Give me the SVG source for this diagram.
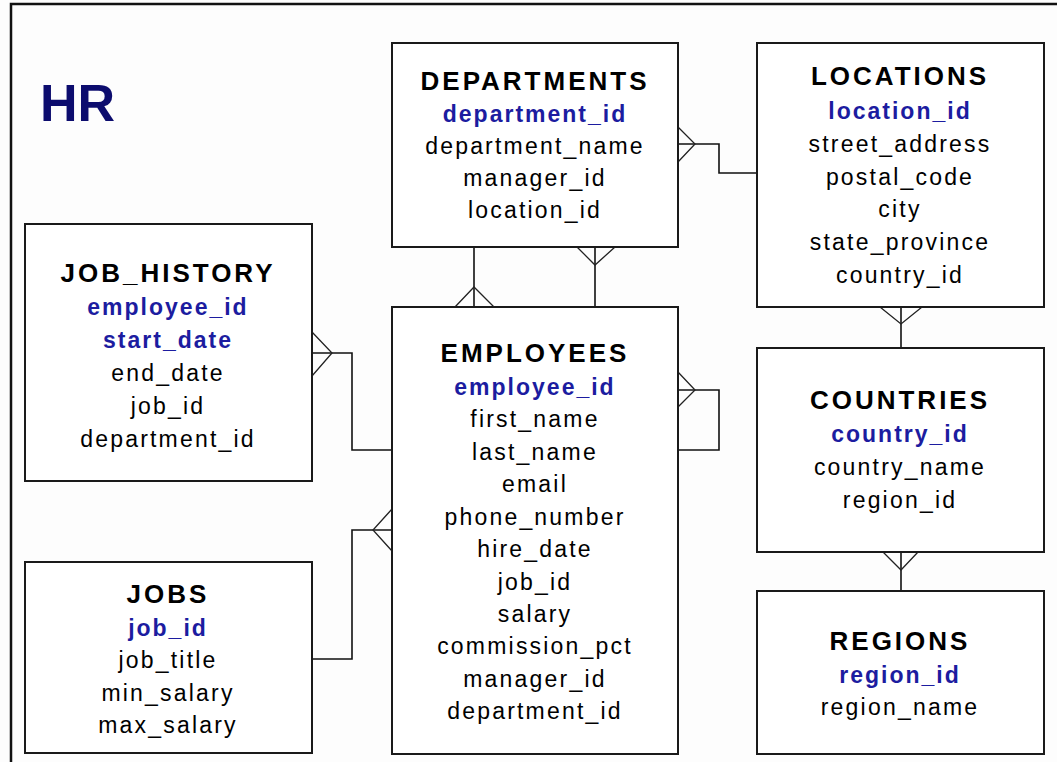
<svg xmlns="http://www.w3.org/2000/svg" width="1057" height="762" viewBox="0 0 1057 762">
<style>
  .bg { fill: #fdfdfd; }
  .frame { stroke: #111; stroke-width: 2.5; fill: none; }
  .box { fill: #ffffff; stroke: #1a1a1a; stroke-width: 2; }
  .title { font-family: "Liberation Sans", Arial, sans-serif; font-weight: bold; font-size: 26px; letter-spacing: 3px; fill: #000; text-anchor: middle; }
  .pk { font-family: "Liberation Sans", Arial, sans-serif; font-weight: bold; font-size: 23px; letter-spacing: 2px; fill: #1c1ca0; text-anchor: middle; }
  .fld { font-family: "Liberation Sans", Arial, sans-serif; font-size: 23px; letter-spacing: 2.2px; fill: #000; text-anchor: middle; }
  .hr { font-family: "Liberation Sans", Arial, sans-serif; font-weight: bold; font-size: 52px; fill: #0c0c6e; }
  .conn { stroke: #111; stroke-width: 1.6; fill: none; }
  .crow { stroke: #222; stroke-width: 1.3; fill: none; }
</style>
<rect class="bg" x="0" y="0" width="1057" height="762"/>
<path class="frame" d="M11,762 V4 H1057"/>
<text class="hr" x="40" y="121">HR</text>

<g id="connectors">
  <!-- DEPARTMENTS >- LOCATIONS -->
  <path class="conn" d="M678,144 H719 V173 H757"/>
  <path class="crow" d="M678,127 L695,144 L678,162"/>
  <!-- EMPLOYEES >- DEPARTMENTS (department_id) -->
  <path class="conn" d="M474,247 V307"/>
  <path class="crow" d="M455,307 L474,287 L494,307"/>
  <!-- DEPARTMENTS >- EMPLOYEES (manager_id) -->
  <path class="conn" d="M595,247 V307"/>
  <path class="crow" d="M577,247 L595,265 L615,247"/>
  <!-- LOCATIONS >- COUNTRIES -->
  <path class="conn" d="M901,307 V348"/>
  <path class="crow" d="M880,307 L901,324 L922,307"/>
  <!-- COUNTRIES >- REGIONS -->
  <path class="conn" d="M901,552 V591"/>
  <path class="crow" d="M883,552 L901,570 L918,552"/>
  <!-- JOB_HISTORY >- EMPLOYEES -->
  <path class="conn" d="M312,353 H352 V450 H392"/>
  <path class="crow" d="M312,332 L332,353 L312,376"/>
  <!-- EMPLOYEES >- JOBS -->
  <path class="conn" d="M392,530 H352 V659 H312"/>
  <path class="crow" d="M392,509 L373,530 L392,551"/>
  <!-- EMPLOYEES self (manager_id) -->
  <path class="conn" d="M678,390 H719 V450 H678"/>
  <path class="crow" d="M678,372 L695,390 L678,407"/>
</g>

<g id="departments">
  <rect class="box" x="392" y="43" width="286" height="204"/>
  <text class="title" x="535" y="90">DEPARTMENTS</text>
  <text class="pk" x="535" y="122">department_id</text>
  <text class="fld" x="535" y="154">department_name</text>
  <text class="fld" x="535" y="186">manager_id</text>
  <text class="fld" x="535" y="218">location_id</text>
</g>

<g id="locations">
  <rect class="box" x="757" y="43" width="287" height="264"/>
  <text class="title" x="900" y="85">LOCATIONS</text>
  <text class="pk" x="900" y="119">location_id</text>
  <text class="fld" x="900" y="152">street_address</text>
  <text class="fld" x="900" y="185">postal_code</text>
  <text class="fld" x="900" y="217">city</text>
  <text class="fld" x="900" y="250">state_province</text>
  <text class="fld" x="900" y="283">country_id</text>
</g>

<g id="job_history">
  <rect class="box" x="25" y="224" width="287" height="257"/>
  <text class="title" x="168" y="282">JOB_HISTORY</text>
  <text class="pk" x="168" y="315">employee_id</text>
  <text class="pk" x="168" y="348">start_date</text>
  <text class="fld" x="168" y="381">end_date</text>
  <text class="fld" x="168" y="414">job_id</text>
  <text class="fld" x="168" y="447">department_id</text>
</g>

<g id="employees">
  <rect class="box" x="392" y="307" width="286" height="447"/>
  <text class="title" x="535" y="362">EMPLOYEES</text>
  <text class="pk" x="535" y="395">employee_id</text>
  <text class="fld" x="535" y="427">first_name</text>
  <text class="fld" x="535" y="460">last_name</text>
  <text class="fld" x="535" y="492">email</text>
  <text class="fld" x="535" y="525">phone_number</text>
  <text class="fld" x="535" y="557">hire_date</text>
  <text class="fld" x="535" y="590">job_id</text>
  <text class="fld" x="535" y="622">salary</text>
  <text class="fld" x="535" y="654">commission_pct</text>
  <text class="fld" x="535" y="687">manager_id</text>
  <text class="fld" x="535" y="719">department_id</text>
</g>

<g id="jobs">
  <rect class="box" x="25" y="562" width="287" height="191"/>
  <text class="title" x="168" y="603">JOBS</text>
  <text class="pk" x="168" y="636">job_id</text>
  <text class="fld" x="168" y="668">job_title</text>
  <text class="fld" x="168" y="701">min_salary</text>
  <text class="fld" x="168" y="733">max_salary</text>
</g>

<g id="countries">
  <rect class="box" x="757" y="348" width="287" height="204"/>
  <text class="title" x="900" y="409">COUNTRIES</text>
  <text class="pk" x="900" y="442">country_id</text>
  <text class="fld" x="900" y="475">country_name</text>
  <text class="fld" x="900" y="508">region_id</text>
</g>

<g id="regions">
  <rect class="box" x="757" y="591" width="287" height="163"/>
  <text class="title" x="900" y="650">REGIONS</text>
  <text class="pk" x="900" y="683">region_id</text>
  <text class="fld" x="900" y="715">region_name</text>
</g>
</svg>
